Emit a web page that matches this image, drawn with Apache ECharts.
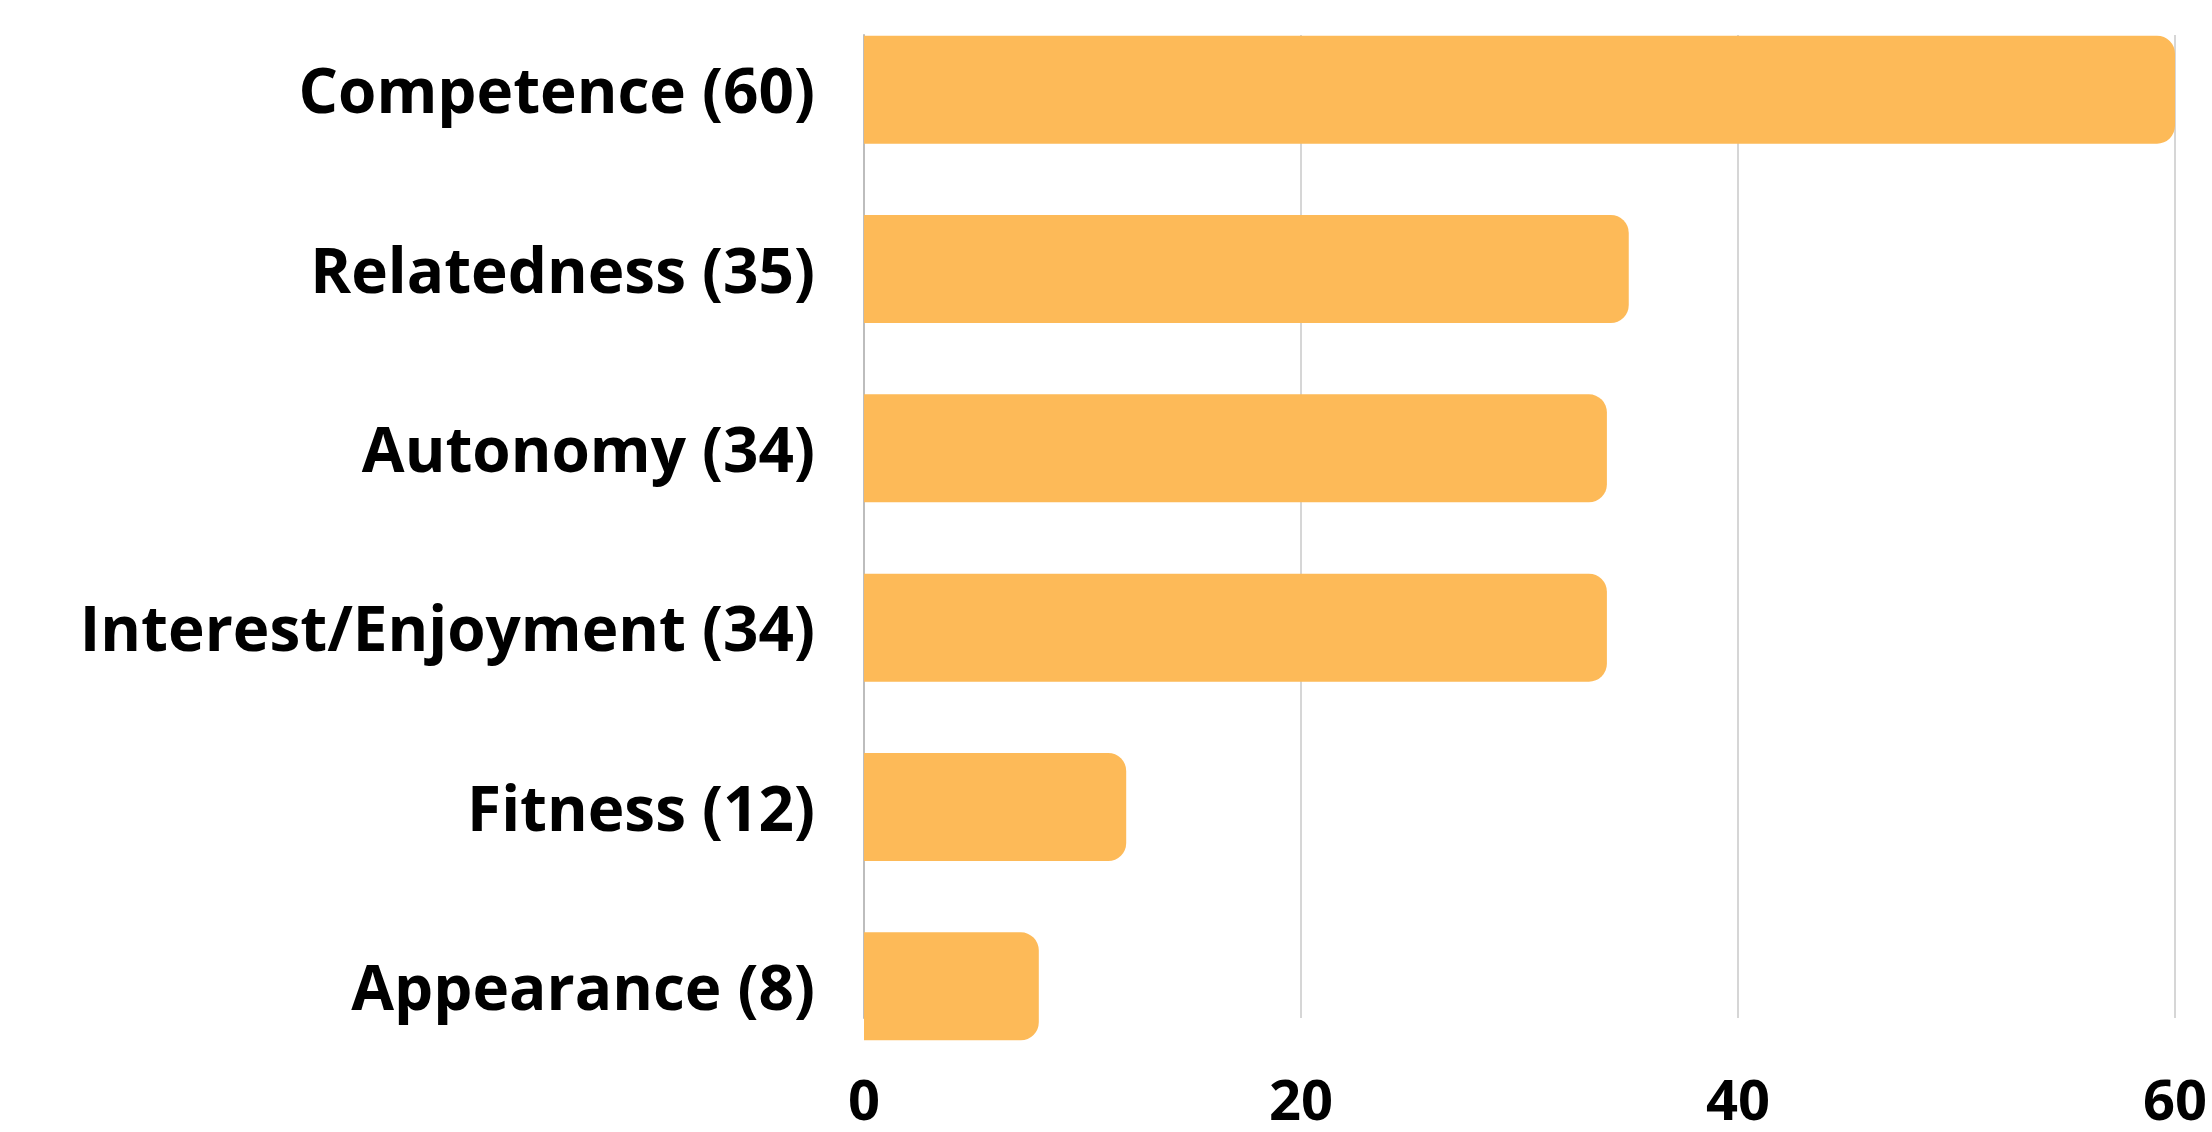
<!DOCTYPE html>
<html>
<head>
<meta charset="utf-8">
<script src="https://cdn.jsdelivr.net/npm/echarts@6/dist/echarts.min.js"></script>
<style>
html,body{margin:0;padding:0;background:#fff;}
#c{width:2212px;height:1132px;}
</style>
</head>
<body>
<div id="c"></div>
<script>
const categories = ["Competence (60)", "Relatedness (35)", "Autonomy (34)", "Interest/Enjoyment (34)", "Fitness (12)", "Appearance (8)"];
const values = [60, 35, 34, 34, 12, 8];
const xTicks = [0, 20, 40, 60];

const chart = echarts.init(document.getElementById('c'), null, {renderer: 'canvas'});
const font = '"Open Sans", "Noto Sans", sans-serif';
chart.setOption({
  backgroundColor: '#ffffff',
  animation: false,
  grid: [
    {left: 864, right: 37, top: 0, height: 1076},
    {left: 864, right: 37, top: 35, bottom: 92}
  ],
  xAxis: [
    {gridIndex: 0, type: 'value', min: xTicks[0], max: xTicks[xTicks.length-1], interval: 20, show: false},
    {gridIndex: 1, type: 'value', min: xTicks[0], max: xTicks[xTicks.length-1], interval: 20,
     axisLine: {show: false}, axisTick: {show: false},
     splitLine: {show: true, lineStyle: {color: '#d6d6d6', width: 2}},
     axisLabel: {margin: 58, fontSize: 56, fontWeight: 'bold', color: '#000', fontFamily: font}}
  ],
  yAxis: [
    {gridIndex: 0, type: 'category', data: categories, inverse: true,
     axisLine: {show: false}, axisTick: {show: false}, splitLine: {show: false},
     axisLabel: {margin: 49, color: '#000',
       formatter: function (v) { return '{a|' + v + '}'; },
       rich: {a: {fontSize: 62, fontWeight: 'bold', color: '#000', fontFamily: font, padding: [12, 0, 0, 0]}}}},
    {gridIndex: 1, type: 'category', data: categories, inverse: true,
     axisLine: {show: true, lineStyle: {color: '#bdbdbd', width: 2}},
     axisTick: {show: false}, axisLabel: {show: false}, splitLine: {show: false}}
  ],
  series: [{
    type: 'bar',
    xAxisIndex: 0, yAxisIndex: 0,
    data: values,
    barWidth: 108,
    z: 5,
    itemStyle: {color: '#FDBA58', borderRadius: [0, 18, 18, 0]}
  }]
});
</script>
</body>
</html>
